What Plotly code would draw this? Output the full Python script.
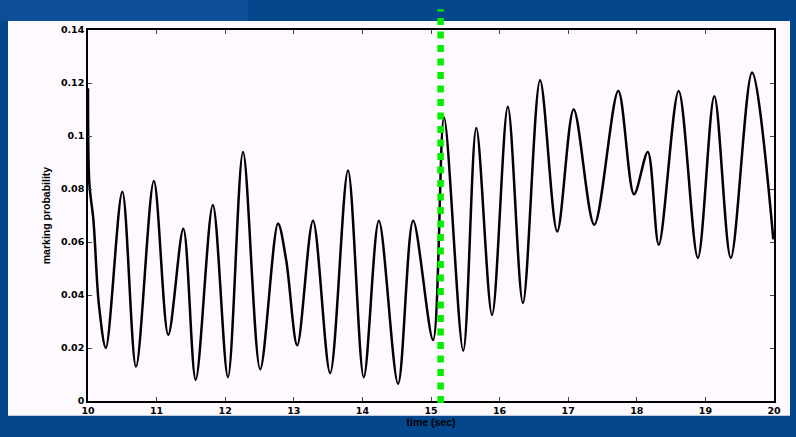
import plotly.graph_objects as go

# time (sec) and marking probability (extrema and visible shoulders)
time_sec = [10.00, 10.02, 10.08, 10.16, 10.26, 10.50, 10.70, 10.96, 11.17, 11.39, 11.57,
            11.82, 12.04, 12.26, 12.51, 12.77, 12.89, 13.05, 13.28, 13.53, 13.79, 14.02,
            14.24, 14.52, 14.74, 15.03, 15.19, 15.47, 15.66, 15.89, 16.12, 16.34, 16.59,
            16.84, 17.08, 17.38, 17.73, 17.96, 18.16, 18.32, 18.61, 18.89, 19.13, 19.37,
            19.68, 19.99]
marking_prob = [0.118, 0.082, 0.068, 0.036, 0.020, 0.079, 0.013, 0.083, 0.025, 0.065, 0.008,
                0.074, 0.009, 0.094, 0.012, 0.067, 0.053, 0.021, 0.068, 0.0105, 0.087, 0.009,
                0.068, 0.0065, 0.068, 0.023, 0.107, 0.019, 0.103, 0.0325, 0.111, 0.037, 0.121,
                0.064, 0.110, 0.0665, 0.117, 0.078, 0.094, 0.059, 0.117, 0.054, 0.115, 0.054,
                0.124, 0.061]

x_ticks = [10, 11, 12, 13, 14, 15, 16, 17, 18, 19, 20]
y_ticks = [0, 0.02, 0.04, 0.06, 0.08, 0.1, 0.12, 0.14]
y_tick_text = ["0", "0.02", "0.04", "0.06", "0.08", "0.1", "0.12", "0.14"]
marker_time = 15.14

W, H = 796, 437
L, R, T, B = 88, 22, 30, 32
pw, ph = W - L - R, H - T - B

def px_x(p):
    return (p - L) / pw

def px_y(p):
    return (H - B - p) / ph

fig = go.Figure()
fig.add_trace(go.Scatter(x=time_sec, y=marking_prob, mode="lines",
                         line=dict(color="black", width=2.5, shape="spline", smoothing=0.9),
                         showlegend=False, hoverinfo="skip"))

font_tick = dict(family="DejaVu Sans, sans-serif", size=9.5, color="black", weight="bold")
font_title = dict(family="Liberation Sans, Arial, sans-serif", size=10.5, color="black",
                  weight="bold")

fig.update_layout(
    width=W, height=H,
    margin=dict(l=L, r=R, t=T, b=B, pad=0),
    paper_bgcolor="#04478C",
    plot_bgcolor="#FEF9FE",
    xaxis=dict(range=[10, 20], tickvals=x_ticks, ticks="inside", ticklen=4,
               showline=True, linecolor="black", linewidth=1.5, mirror="ticks",
               showgrid=False, zeroline=False, tickfont=font_tick,
               title=dict(text="time (sec)", font=font_title, standoff=1)),
    yaxis=dict(range=[0, 0.14], tickvals=y_ticks, ticktext=y_tick_text, ticks="inside",
               ticklen=4, showline=True, linecolor="black", linewidth=1.5, mirror="ticks",
               showgrid=False, zeroline=False, tickfont=font_tick,
               title=dict(text="marking probability", font=font_title, standoff=8)),
    shapes=[
        dict(type="rect", xref="paper", yref="paper", layer="below",
             x0=px_x(0), x1=px_x(248), y0=px_y(21), y1=px_y(0),
             fillcolor="#0C4F97", line=dict(width=0)),
        dict(type="rect", xref="paper", yref="paper", layer="below",
             x0=px_x(8), x1=px_x(790), y0=px_y(420), y1=px_y(21),
             fillcolor="#FEF9FE", line=dict(width=0)),
        dict(type="line", xref="x", yref="paper", layer="above",
             x0=marker_time, x1=marker_time, y0=px_y(407), y1=px_y(9),
             line=dict(color="#00F000", width=6.5, dash="7px,6.5px")),
    ],
)

fig.write_html("out.html")
